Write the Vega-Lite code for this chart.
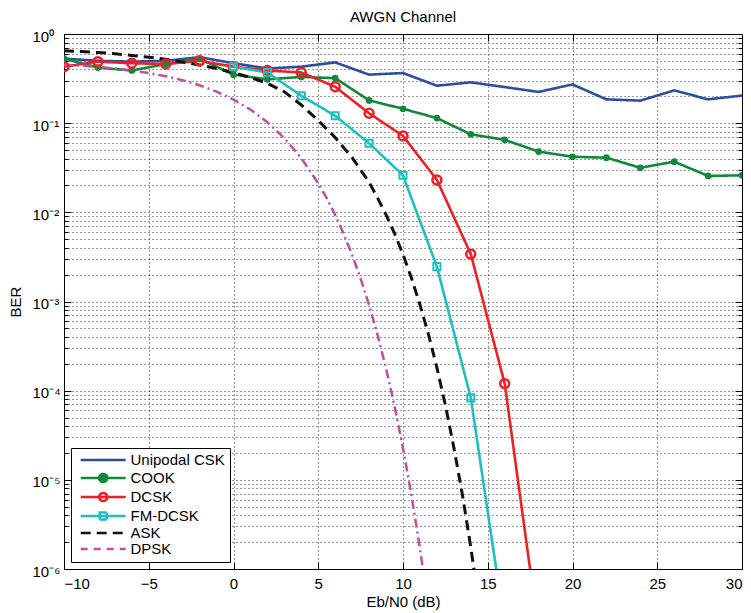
{
  "$schema": "https://vega.github.io/schema/vega-lite/v6.json",
  "width": 678,
  "height": 535,
  "autosize": {"type": "none"},
  "padding": {"left": 64, "top": 34, "right": 9, "bottom": 44},
  "background": "white",
  "title": {"text": "AWGN Channel", "font": "Liberation Sans", "fontSize": 15, "fontWeight": "normal", "color": "#000", "offset": 4, "anchor": "middle"},
  "config": {
    "font": "Liberation Sans",
    "view": {"stroke": "#000", "strokeWidth": 1},
    "axis": {
      "labelFont": "Liberation Sans", "labelFontSize": 15, "labelColor": "#000",
      "titleFont": "Liberation Sans", "titleFontSize": 15, "titleFontWeight": "normal", "titleColor": "#000",
      "domain": false, "tickColor": "#000", "tickWidth": 1,
      "gridColor": "#000", "gridDash": [1, 3], "gridOpacity": 0.8, "gridWidth": 1,
      "labelOverlap": false
    }
  },
  "datasets": {
    "d": [
      {"s": "Unipodal CSK", "x": -10, "y": 0.53}, {"s": "Unipodal CSK", "x": -8, "y": 0.50}, {"s": "Unipodal CSK", "x": -6, "y": 0.49},
      {"s": "Unipodal CSK", "x": -4, "y": 0.50}, {"s": "Unipodal CSK", "x": -2, "y": 0.55}, {"s": "Unipodal CSK", "x": 0, "y": 0.47},
      {"s": "Unipodal CSK", "x": 2, "y": 0.41}, {"s": "Unipodal CSK", "x": 4, "y": 0.43}, {"s": "Unipodal CSK", "x": 6, "y": 0.48},
      {"s": "Unipodal CSK", "x": 8, "y": 0.35}, {"s": "Unipodal CSK", "x": 10, "y": 0.365}, {"s": "Unipodal CSK", "x": 12, "y": 0.263},
      {"s": "Unipodal CSK", "x": 14, "y": 0.287}, {"s": "Unipodal CSK", "x": 16, "y": 0.254}, {"s": "Unipodal CSK", "x": 18, "y": 0.224},
      {"s": "Unipodal CSK", "x": 20, "y": 0.272}, {"s": "Unipodal CSK", "x": 22, "y": 0.185}, {"s": "Unipodal CSK", "x": 24, "y": 0.179},
      {"s": "Unipodal CSK", "x": 26, "y": 0.233}, {"s": "Unipodal CSK", "x": 28, "y": 0.185}, {"s": "Unipodal CSK", "x": 30, "y": 0.204},
      {"s": "COOK", "x": -10, "y": 0.53}, {"s": "COOK", "x": -8, "y": 0.42}, {"s": "COOK", "x": -6, "y": 0.39},
      {"s": "COOK", "x": -4, "y": 0.46}, {"s": "COOK", "x": -2, "y": 0.53}, {"s": "COOK", "x": 0, "y": 0.35},
      {"s": "COOK", "x": 2, "y": 0.31}, {"s": "COOK", "x": 4, "y": 0.33}, {"s": "COOK", "x": 6, "y": 0.32},
      {"s": "COOK", "x": 8, "y": 0.18}, {"s": "COOK", "x": 10, "y": 0.145}, {"s": "COOK", "x": 12, "y": 0.114},
      {"s": "COOK", "x": 14, "y": 0.075}, {"s": "COOK", "x": 16, "y": 0.065}, {"s": "COOK", "x": 18, "y": 0.048},
      {"s": "COOK", "x": 20, "y": 0.042}, {"s": "COOK", "x": 22, "y": 0.041}, {"s": "COOK", "x": 24, "y": 0.0316},
      {"s": "COOK", "x": 26, "y": 0.037}, {"s": "COOK", "x": 28, "y": 0.0256}, {"s": "COOK", "x": 30, "y": 0.026},
      {"s": "DCSK", "x": -10, "y": 0.43}, {"s": "DCSK", "x": -8, "y": 0.49}, {"s": "DCSK", "x": -6, "y": 0.47},
      {"s": "DCSK", "x": -4, "y": 0.46}, {"s": "DCSK", "x": -2, "y": 0.50}, {"s": "DCSK", "x": 0, "y": 0.43},
      {"s": "DCSK", "x": 2, "y": 0.39}, {"s": "DCSK", "x": 4, "y": 0.37}, {"s": "DCSK", "x": 6, "y": 0.256},
      {"s": "DCSK", "x": 8, "y": 0.129}, {"s": "DCSK", "x": 10, "y": 0.072}, {"s": "DCSK", "x": 12, "y": 0.0231},
      {"s": "DCSK", "x": 14, "y": 0.0034}, {"s": "DCSK", "x": 16, "y": 0.00012}, {"s": "DCSK", "x": 18, "y": 2e-7},
      {"s": "FM-DCSK", "x": 0, "y": 0.43}, {"s": "FM-DCSK", "x": 2, "y": 0.37}, {"s": "FM-DCSK", "x": 4, "y": 0.203},
      {"s": "FM-DCSK", "x": 6, "y": 0.121}, {"s": "FM-DCSK", "x": 8, "y": 0.0595}, {"s": "FM-DCSK", "x": 10, "y": 0.026},
      {"s": "FM-DCSK", "x": 12, "y": 0.00246}, {"s": "FM-DCSK", "x": 14, "y": 0.000083}, {"s": "FM-DCSK", "x": 16, "y": 2.3e-7},
      {"s": "ASK", "x": -10, "y": 0.65}, {"s": "ASK", "x": -9, "y": 0.635}, {"s": "ASK", "x": -8, "y": 0.62},
      {"s": "ASK", "x": -7, "y": 0.60}, {"s": "ASK", "x": -6, "y": 0.575}, {"s": "ASK", "x": -5, "y": 0.55},
      {"s": "ASK", "x": -4, "y": 0.52}, {"s": "ASK", "x": -3, "y": 0.485}, {"s": "ASK", "x": -2, "y": 0.45},
      {"s": "ASK", "x": -1, "y": 0.41}, {"s": "ASK", "x": 0, "y": 0.37}, {"s": "ASK", "x": 1, "y": 0.325},
      {"s": "ASK", "x": 2, "y": 0.28}, {"s": "ASK", "x": 3, "y": 0.225}, {"s": "ASK", "x": 4, "y": 0.16},
      {"s": "ASK", "x": 5, "y": 0.107}, {"s": "ASK", "x": 6, "y": 0.069}, {"s": "ASK", "x": 7, "y": 0.041},
      {"s": "ASK", "x": 8, "y": 0.0218}, {"s": "ASK", "x": 8.5, "y": 0.0145}, {"s": "ASK", "x": 9, "y": 0.0094},
      {"s": "ASK", "x": 9.5, "y": 0.0058}, {"s": "ASK", "x": 10, "y": 0.00337}, {"s": "ASK", "x": 10.5, "y": 0.00183},
      {"s": "ASK", "x": 11, "y": 0.00092}, {"s": "ASK", "x": 11.5, "y": 0.00043}, {"s": "ASK", "x": 12, "y": 0.000181},
      {"s": "ASK", "x": 12.5, "y": 0.000069}, {"s": "ASK", "x": 13, "y": 0.000023}, {"s": "ASK", "x": 13.5, "y": 0.0000069},
      {"s": "ASK", "x": 14, "y": 0.00000175}, {"s": "ASK", "x": 14.5, "y": 3.8e-7},
      {"s": "DPSK", "x": -10, "y": 0.4524}, {"s": "DPSK", "x": -9, "y": 0.4408}, {"s": "DPSK", "x": -8, "y": 0.4268},
      {"s": "DPSK", "x": -7, "y": 0.4096}, {"s": "DPSK", "x": -6, "y": 0.3889}, {"s": "DPSK", "x": -5, "y": 0.3644},
      {"s": "DPSK", "x": -4, "y": 0.3358}, {"s": "DPSK", "x": -3, "y": 0.3029}, {"s": "DPSK", "x": -2, "y": 0.266},
      {"s": "DPSK", "x": -1, "y": 0.2259}, {"s": "DPSK", "x": 0, "y": 0.1839}, {"s": "DPSK", "x": 1, "y": 0.142},
      {"s": "DPSK", "x": 2, "y": 0.1025}, {"s": "DPSK", "x": 3, "y": 0.068}, {"s": "DPSK", "x": 4, "y": 0.0406},
      {"s": "DPSK", "x": 5, "y": 0.02116}, {"s": "DPSK", "x": 5.5, "y": 0.0144}, {"s": "DPSK", "x": 6, "y": 0.00933},
      {"s": "DPSK", "x": 6.5, "y": 0.00574}, {"s": "DPSK", "x": 7, "y": 0.00333}, {"s": "DPSK", "x": 7.5, "y": 0.001805},
      {"s": "DPSK", "x": 8, "y": 0.000909}, {"s": "DPSK", "x": 8.5, "y": 0.000421}, {"s": "DPSK", "x": 9, "y": 0.0001775},
      {"s": "DPSK", "x": 9.5, "y": 0.0000674}, {"s": "DPSK", "x": 10, "y": 0.0000227}, {"s": "DPSK", "x": 10.5, "y": 0.0000067},
      {"s": "DPSK", "x": 11, "y": 0.0000017}, {"s": "DPSK", "x": 11.5, "y": 3.67e-7}
    ]
  },
  "data": {"name": "d"},
  "layer": [
    {
      "transform": [{"filter": {"field": "s", "oneOf": ["Unipodal CSK", "COOK", "DCSK", "FM-DCSK"]}}],
      "mark": {"type": "line", "strokeWidth": 2.6, "clip": true},
      "encoding": {
        "x": {"field": "x", "type": "quantitative", "scale": {"domain": [-10, 30], "nice": false, "zero": false},
          "axis": {"orient": "bottom", "values": [-10, -5, 0, 5, 10, 15, 20, 25, 30], "grid": true, "tickSize": -7, "labelPadding": 14, "title": "Eb/N0 (dB)", "titlePadding": 3}},
        "y": {"field": "y", "type": "quantitative", "scale": {"type": "log", "domain": [0.000001, 1], "nice": false},
          "axis": {"orient": "left", "grid": true, "tickSize": -4, "labelPadding": 36, "labelAlign": "left", "labelOffset": 2, "title": "BER", "titlePadding": 9,
            "values": [0.000001, 0.000002, 0.000003, 0.000004, 0.000005, 0.000006, 0.000007, 0.000008, 0.000009,
                       0.00001, 0.00002, 0.00003, 0.00004, 0.00005, 0.00006, 0.00007, 0.00008, 0.00009,
                       0.0001, 0.0002, 0.0003, 0.0004, 0.0005, 0.0006, 0.0007, 0.0008, 0.0009,
                       0.001, 0.002, 0.003, 0.004, 0.005, 0.006, 0.007, 0.008, 0.009,
                       0.01, 0.02, 0.03, 0.04, 0.05, 0.06, 0.07, 0.08, 0.09,
                       0.1, 0.2, 0.3, 0.4, 0.5, 0.6, 0.7, 0.8, 0.9, 1],
            "labelExpr": "abs(log(datum.value)/LN10 - round(log(datum.value)/LN10)) < 0.000001 ? '10' + ['⁰','⁻¹','⁻²','⁻³','⁻⁴','⁻⁵','⁻⁶'][-round(log(datum.value)/LN10)] : ''"}},
        "color": {"field": "s", "type": "nominal",
          "scale": {"domain": ["Unipodal CSK", "COOK", "DCSK", "FM-DCSK", "ASK", "DPSK"], "range": ["#2d4e9f", "#12883c", "#ee1f26", "#20bfbf", "#111111", "#c04f9f"]},
          "legend": {
            "title": null, "orient": "bottom-left", "offset": 7, "padding": 4.5, "rowPadding": 0,
            "symbolSize": 100, "symbolStrokeWidth": 2.6, "labelOffset": 40, "labelFont": "Liberation Sans", "labelFontSize": 15, "labelColor": "#000", "labelLimit": 300,
            "strokeColor": "#000", "fillColor": "#fff",
            "encode": {
              "symbols": {"update": {
                "shape": {"signal": "datum.value === 'COOK' || datum.value === 'DCSK' ? 'M-0.46,0H8.54M4.84,0A0.8,0.8,0,1,1,3.24,0A0.8,0.8,0,1,1,4.84,0' : datum.value === 'FM-DCSK' ? 'M-0.46,0H8.54M3.34,-0.7H4.74V0.7H3.34Z' : 'M-0.46,0H8.54'"},
                "fill": {"signal": "datum.value === 'COOK' ? '#12883c' : 'transparent'"}
              }}
            }
          }},
        "strokeDash": {"field": "s", "type": "nominal", "legend": null,
          "scale": {"domain": ["Unipodal CSK", "COOK", "DCSK", "FM-DCSK", "ASK", "DPSK"], "range": [[1, 0], [1, 0], [1, 0], [1, 0], [10, 6], [7, 6]]}}
      }
    },
    {
      "transform": [{"filter": {"field": "s", "equal": "ASK"}}],
      "mark": {"type": "line", "clip": true, "color": "#111111", "strokeWidth": 3, "strokeDash": [10, 6]},
      "encoding": {
        "x": {"field": "x", "type": "quantitative", "axis": {"orient": "top", "values": [-10, -5, 0, 5, 10, 15, 20, 25, 30], "labels": false, "grid": false, "tickSize": -7, "title": null}},
        "y": {"field": "y", "type": "quantitative", "axis": {"orient": "right", "values": [0.000001, 0.00001, 0.0001, 0.001, 0.01, 0.1, 1], "labels": false, "grid": false, "tickSize": -7, "title": null}}
      }
    },
    {
      "transform": [{"filter": {"field": "s", "equal": "DPSK"}}],
      "mark": {"type": "line", "clip": true, "color": "#c04f9f", "strokeWidth": 2.5, "strokeDash": [9, 4, 2, 4]},
      "encoding": {
        "x": {"field": "x", "type": "quantitative", "axis": null},
        "y": {"field": "y", "type": "quantitative", "axis": null}
      }
    },
    {
      "transform": [{"filter": {"field": "s", "equal": "COOK"}}],
      "mark": {"type": "point", "shape": "circle", "filled": true, "size": 45, "color": "#12883c", "opacity": 1, "clip": true},
      "encoding": {
        "x": {"field": "x", "type": "quantitative", "axis": null},
        "y": {"field": "y", "type": "quantitative", "axis": {"orient": "left", "values": [0.000001, 0.00001, 0.0001, 0.001, 0.01, 0.1, 1], "labels": false, "grid": false, "tickSize": -7, "title": null}}
      }
    },
    {
      "transform": [{"filter": {"field": "s", "equal": "DCSK"}}],
      "mark": {"type": "point", "shape": "circle", "filled": false, "size": 80, "strokeWidth": 2.5, "color": "#ee1f26", "opacity": 1, "clip": true},
      "encoding": {
        "x": {"field": "x", "type": "quantitative", "axis": null},
        "y": {"field": "y", "type": "quantitative", "axis": {"orient": "right", "labels": false, "grid": false, "tickSize": -4, "title": null,
            "values": [0.000002, 0.000003, 0.000004, 0.000005, 0.000006, 0.000007, 0.000008, 0.000009,
                       0.00002, 0.00003, 0.00004, 0.00005, 0.00006, 0.00007, 0.00008, 0.00009,
                       0.0002, 0.0003, 0.0004, 0.0005, 0.0006, 0.0007, 0.0008, 0.0009,
                       0.002, 0.003, 0.004, 0.005, 0.006, 0.007, 0.008, 0.009,
                       0.02, 0.03, 0.04, 0.05, 0.06, 0.07, 0.08, 0.09,
                       0.2, 0.3, 0.4, 0.5, 0.6, 0.7, 0.8, 0.9]}}
      }
    },
    {
      "transform": [{"filter": {"field": "s", "equal": "FM-DCSK"}}],
      "mark": {"type": "point", "shape": "square", "filled": false, "size": 50, "strokeWidth": 2, "color": "#20bfbf", "opacity": 1, "clip": true},
      "encoding": {
        "x": {"field": "x", "type": "quantitative", "axis": null},
        "y": {"field": "y", "type": "quantitative", "axis": null}
      }
    }
  ],
  "resolve": {"axis": {"x": "independent", "y": "independent"}}
}
